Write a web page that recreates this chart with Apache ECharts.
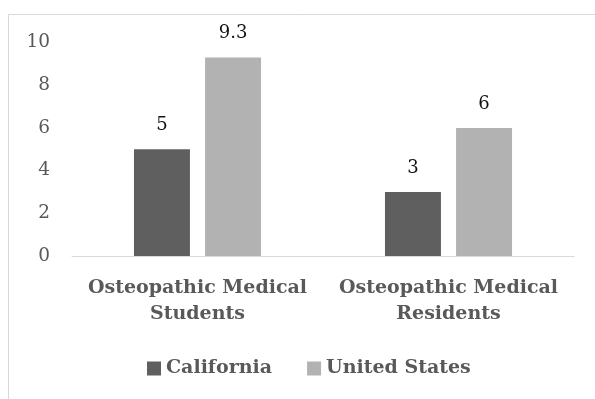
<!DOCTYPE html>
<html>
<head>
<meta charset="utf-8">
<script src="https://cdn.jsdelivr.net/npm/echarts@6/dist/echarts.min.js"></script>
<style>
html,body{margin:0;padding:0;background:#fff;}
#chart{width:595px;height:399px;}
</style>
</head>
<body>
<div id="chart"></div>
<script>
const categories = ['Osteopathic Medical\nStudents', 'Osteopathic Medical\nResidents'];
const seriesNames = ['California', 'United States'];
const california = [5, 3];
const unitedStates = [9.3, 6];
const yTicks = [0, 2, 4, 6, 8, 10];

const FONT = 'DejaVu Serif';
const chart = echarts.init(document.getElementById('chart'), null, {renderer: 'canvas'});
chart.setOption({
  animation: false,
  textStyle: {fontFamily: FONT},
  graphic: [{
    type: 'rect',
    left: 6, top: 12,
    shape: {width: 800, height: 600},
    style: {fill: 'none', stroke: '#d9d9d9', lineWidth: 1}
  }],
  grid: {left: 72, right: 21, top: 42.5, bottom: 143, containLabel: false},
  legend: {
    left: 147, top: 359, padding: 0,
    itemWidth: 14, itemHeight: 14, itemGap: 35,
    icon: 'rect',
    textStyle: {fontFamily: FONT, fontSize: 19, fontWeight: 'bold', color: '#595959'},
    data: seriesNames
  },
  xAxis: {
    type: 'category',
    data: categories,
    axisLine: {lineStyle: {color: '#d9d9d9', width: 1}},
    axisTick: {show: false},
    axisLabel: {
      fontFamily: FONT, fontSize: 19, fontWeight: 'bold', color: '#595959',
      lineHeight: 26, margin: 19, interval: 0
    }
  },
  yAxis: {
    type: 'value',
    min: yTicks[0], max: yTicks[yTicks.length - 1], interval: 2,
    splitLine: {show: false},
    axisLine: {show: false},
    axisTick: {show: false},
    axisLabel: {fontFamily: FONT, fontSize: 18.5, color: '#595959', margin: 22}
  },
  series: [
    {
      name: seriesNames[0], type: 'bar', data: california,
      barWidth: '22.3%', barGap: '27%',
      itemStyle: {color: '#5f5f5f'},
      label: {show: true, position: 'top', distance: 15, fontFamily: FONT, fontSize: 18, color: '#111'}
    },
    {
      name: seriesNames[1], type: 'bar', data: unitedStates,
      barWidth: '22.3%', barGap: '27%',
      itemStyle: {color: '#b2b2b2'},
      label: {show: true, position: 'top', distance: 15, fontFamily: FONT, fontSize: 18, color: '#111'}
    }
  ]
});
</script>
</body>
</html>
